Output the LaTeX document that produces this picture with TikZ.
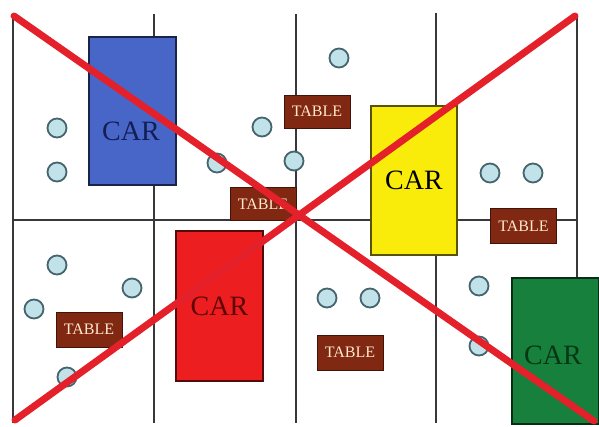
\documentclass[tikz,border=0pt]{standalone}
\usepackage{fontspec}
\setmainfont{Liberation Serif}
\definecolor{gridc}{RGB}{55,55,60}
\definecolor{bluecar}{RGB}{72,102,200}
\definecolor{bluetxt}{RGB}{20,30,85}
\definecolor{yelcar}{RGB}{250,236,10}
\definecolor{redcar}{RGB}{236,30,32}
\definecolor{redtxt}{RGB}{95,5,5}
\definecolor{grncar}{RGB}{22,128,60}
\definecolor{grntxt}{RGB}{5,55,20}
\definecolor{tabfill}{RGB}{128,40,18}
\definecolor{tabtxt}{RGB}{255,232,205}
\definecolor{circfill}{RGB}{192,226,232}
\definecolor{circline}{RGB}{70,100,110}
\definecolor{xred}{RGB}{228,32,42}
\tikzset{
  gridline/.style={draw=gridc, line width=1.4pt},
  carbox/.style={draw=#1!35!black, line width=1.2pt, rectangle, inner sep=0pt, font=\fontsize{28}{30}\selectfont},
  tablebox/.style={draw=tabfill!50!black, line width=0.8pt, fill=tabfill, text=tabtxt, rectangle, inner sep=0pt, minimum width=66pt, minimum height=33pt, font=\fontsize{16}{18}\selectfont},
  seat/.style={circle, draw=circline, fill=circfill, line width=1.8pt, minimum size=19pt, inner sep=0pt},
  bigx/.style={draw=xred, line width=7pt, line cap=round}
}
\begin{document}
\begin{tikzpicture}[x=1pt,y=-1pt]
\useasboundingbox (0,0) rectangle (599,426);
\fill[white] (0,0) rectangle (599,426);
% grid
\coordinate (v1t) at (13,15); \coordinate (v1b) at (13,423);
\coordinate (v2t) at (154,14); \coordinate (v2b) at (154,423);
\coordinate (v3t) at (296,14); \coordinate (v3b) at (296,423);
\coordinate (v4t) at (436,13); \coordinate (v4b) at (436,423);
\coordinate (v5t) at (577,15); \coordinate (v5b) at (577,300);
\coordinate (hl) at (13,220); \coordinate (hr) at (577,220);
\draw[gridline] (v1t) -- (v1b);
\draw[gridline] (v2t) -- (v2b);
\draw[gridline] (v3t) -- (v3b);
\draw[gridline] (v4t) -- (v4b);
\draw[gridline] (v5t) -- (v5b);
\draw[gridline] (hl) -- (hr);
% cars
\node[carbox=bluecar, fill=bluecar, text=bluetxt, minimum width=87pt, minimum height=148pt] (car1) at (132.5,111) {};
\node[text=bluetxt, font=\fontsize{28}{30}\selectfont] (car1t) at (131,131) {CAR};
\node[carbox=yelcar, fill=yelcar, text=black, minimum width=86pt, minimum height=149pt] (car2) at (414,180.5) {CAR};
\node[carbox=redcar, fill=redcar, text=redtxt, minimum width=87pt, minimum height=150pt] (car3) at (219.5,306) {CAR};
\node[carbox=grncar, fill=grncar, text=grntxt, minimum width=87pt, minimum height=146pt] (car4) at (555.5,351) {};
\node[text=grntxt, font=\fontsize{28}{30}\selectfont] (car4t) at (553,355) {CAR};
% seats
\node[seat] (s1) at (57,128) {};
\node[seat] (s2) at (57,172) {};
\node[seat] (s3) at (262,127) {};
\node[seat] (s4) at (217,163) {};
\node[seat] (s5) at (294,161) {};
\node[seat] (s6) at (339,58) {};
\node[seat] (s7) at (490,173) {};
\node[seat] (s8) at (533,173) {};
\node[seat] (s9) at (57,265) {};
\node[seat] (s10) at (132,288) {};
\node[seat] (s11) at (34,309) {};
\node[seat] (s12) at (67,377) {};
\node[seat] (s13) at (327,298) {};
\node[seat] (s14) at (370,298) {};
\node[seat] (s15) at (479,286) {};
\node[seat] (s16) at (479,346) {};
% tables
\node[tablebox] (t1) at (317,111.5) {TABLE};
\node[tablebox] (t2) at (263,204) {TABLE};
\node[tablebox, minimum height=35pt] (t3) at (523.5,226) {TABLE};
\node[tablebox, minimum height=35pt] (t4) at (89,329.5) {TABLE};
\node[tablebox, minimum height=35pt] (t5) at (350,352.5) {TABLE};
% big X
\coordinate (xa) at (14,16); \coordinate (xb) at (594,421);
\coordinate (xc) at (575,16); \coordinate (xd) at (15,420);
\draw[bigx] (xa) -- (xb);
\draw[bigx] (xc) -- (xd);
\end{tikzpicture}
\end{document}
